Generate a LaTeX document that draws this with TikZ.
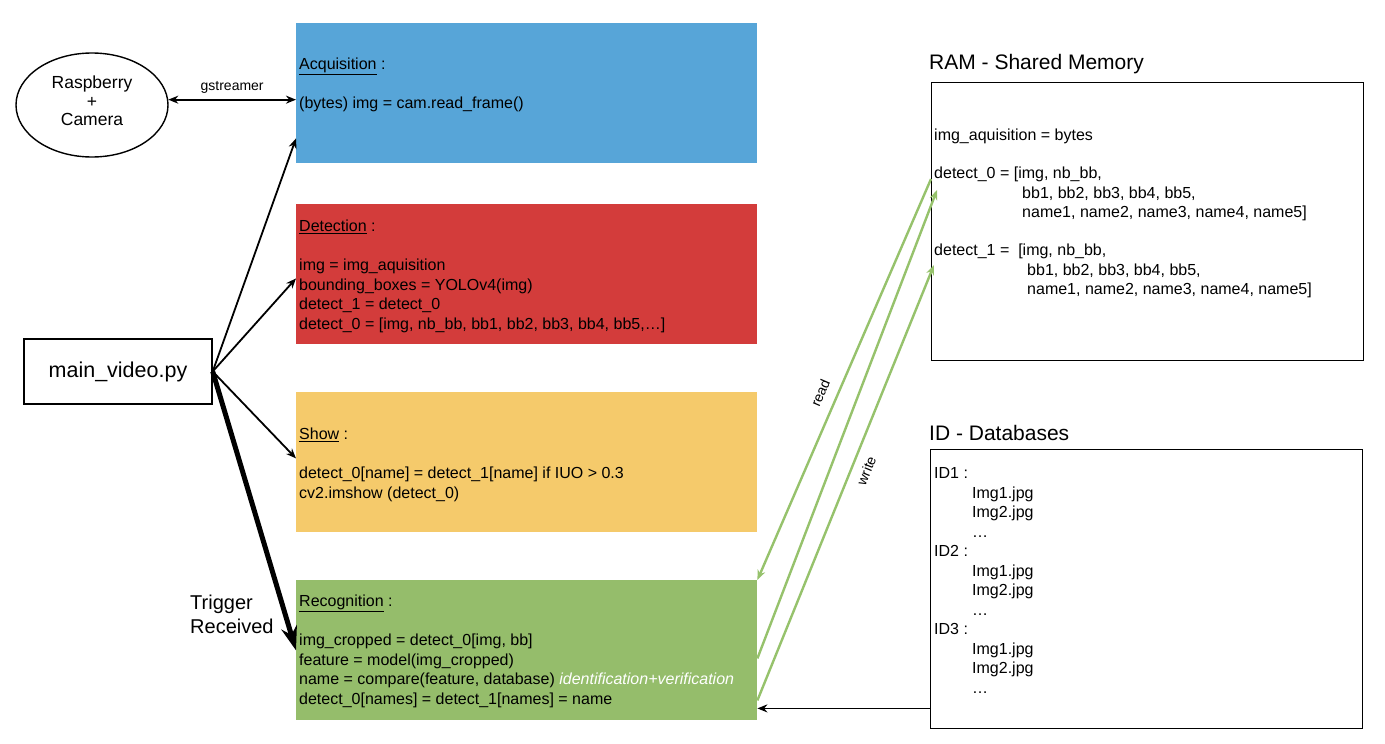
\documentclass[tikz,border=0pt]{standalone}
\usepackage{fontspec}
\setmainfont{Liberation Sans}
\usetikzlibrary{arrows.meta,shapes.geometric}
\definecolor{acqblue}{HTML}{57A5D8}
\definecolor{detred}{HTML}{D33C3B}
\definecolor{showyellow}{HTML}{F5CA6B}
\definecolor{recgreen}{HTML}{95BD6B}
\definecolor{memgreen}{HTML}{96C26C}
\newcommand{\boxfont}{\fontsize{16}{19.5}\selectfont}

\begin{document}
\begin{tikzpicture}[x=1pt,y=-1pt,
  >={Stealth[length=10pt,width=8pt]},
  stage/.style={anchor=north west, minimum width=461pt, minimum height=140pt, inner sep=0pt},
  codetext/.style={anchor=north west, inner sep=0pt, align=left, font=\boxfont},
  membox/.style={draw, line width=1.4pt, anchor=north west, minimum width=432pt, inner sep=0pt},
  call/.style={line width=1.8pt, ->},
  shm/.style={memgreen, line width=2.4pt, ->},
  arrowlbl/.style={text=black, font=\fontsize{14}{17}\selectfont}]
\useasboundingbox (0,0) rectangle (1385,744);
% camera and main script
\node[ellipse, draw, line width=1.4pt, minimum width=152pt, minimum height=104pt, inner sep=0pt] (cam) at (92,105) {};
\node[align=center, inner sep=0pt, font=\fontsize{17.5}{18.5}\selectfont] (camtxt) at (92,101) {Raspberry\\+\\Camera};
\node[draw, line width=1.4pt, minimum width=188pt, minimum height=65pt, font=\fontsize{21.5}{25}\selectfont] (main) at (118,371.5) {main\_video.py};
\node[anchor=north west, align=left, inner sep=0pt, font=\fontsize{20}{24}\selectfont] (trig) at (190,592) {\strut Trigger\\Received};
% stages
\node[stage, fill=acqblue] (acq) at (296,23) {};
\node[stage, fill=detred] (det) at (296,204) {};
\node[stage, fill=showyellow] (show) at (296,392) {};
\node[stage, fill=recgreen] (recog) at (296,580) {};
\node[codetext] (acqtxt) at (299,56) {\strut\underline{Acquisition} :\\[19.5pt] (bytes) img = cam.read\_frame()};
\node[codetext] (dettxt) at (299,218) {\strut\underline{Detection} :\\[19.5pt] img = img\_aquisition\\ bounding\_boxes = YOLOv4(img)\\ detect\_1 = detect\_0\\ detect\_0 = [img, nb\_bb, bb1, bb2, bb3, bb4, bb5,…]};
\node[codetext] (showtxt) at (299,426) {\strut\underline{Show} :\\[19.5pt] detect\_0[name] = detect\_1[name] if IUO > 0.3\\ cv2.imshow (detect\_0)};
\node[codetext] (recogtxt) at (299,593) {\strut\underline{Recognition} :\\[19.5pt] img\_cropped = detect\_0[img, bb]\\ feature = model(img\_cropped)\\ name = compare(feature, database) \textcolor{white}{\itshape identification+verification}\\ detect\_0[names] = detect\_1[names] = name};
% memory and databases
\node[anchor=west, inner sep=0pt, font=\fontsize{21}{25}\selectfont] (ramtitle) at (929,64) {RAM - Shared Memory};
\node[membox, minimum height=278pt] (ram) at (931,82) {};
\node[codetext] (ramtxt) at (934,127) {\strut img\_aquisition = bytes\\[18.5pt] detect\_0 = [img, nb\_bb,\\ \hspace*{88pt}bb1, bb2, bb3, bb4, bb5,\\ \hspace*{88pt}name1, name2, name3, name4, name5]\\[18.5pt] detect\_1 = \ [img, nb\_bb,\\ \hspace*{93pt}bb1, bb2, bb3, bb4, bb5,\\ \hspace*{93pt}name1, name2, name3, name4, name5]};
\node[anchor=west, inner sep=0pt, font=\fontsize{21}{25}\selectfont] (idtitle) at (929,433) {ID - Databases};
\node[membox, minimum height=279pt] (iddb) at (930,449) {};
\node[codetext] (idtxt) at (934,465) {\strut ID1 :\\ \hspace*{38pt}Img1.jpg\\ \hspace*{38pt}Img2.jpg\\ \hspace*{38pt}…\\ ID2 :\\ \hspace*{38pt}Img1.jpg\\ \hspace*{38pt}Img2.jpg\\ \hspace*{38pt}…\\ ID3 :\\ \hspace*{38pt}Img1.jpg\\ \hspace*{38pt}Img2.jpg\\ \hspace*{38pt}…};
% connectors
\draw[line width=1.8pt, <->] (cam.4) -- (cam.4 -| acq.west) node[midway, above=2pt, font=\fontsize{14}{17}\selectfont] (gst) {gstreamer};
\draw[call] (main.east) -- ([yshift=25pt]acq.south west);
\draw[call] (main.east) -- ([yshift=66pt]det.south west);
\draw[call] (main.east) -- ([yshift=74pt]show.south west);
\draw[line width=5pt, -{Stealth[length=24pt,width=16pt]}] (main.east) -- ([yshift=70pt]recog.south west);
\draw[shm] ([yshift=-97pt]ram.north west) -- (recog.north east) node[pos=0.55, sloped, above=7pt, arrowlbl] (rd) {read};
\draw[shm] ([yshift=62pt]recog.south east) -- ([xshift=6pt,yshift=-108pt]ram.north west);
\draw[shm] ([yshift=20pt]recog.south east) -- ([xshift=3pt,yshift=-183pt]ram.north west) node[pos=0.54, sloped, below=5pt, arrowlbl] (wr) {write};
\coordinate (dbout) at ([yshift=21pt]iddb.south west);
\draw[call] (dbout) -- (dbout -| recog.east);
\end{tikzpicture}
\end{document}
